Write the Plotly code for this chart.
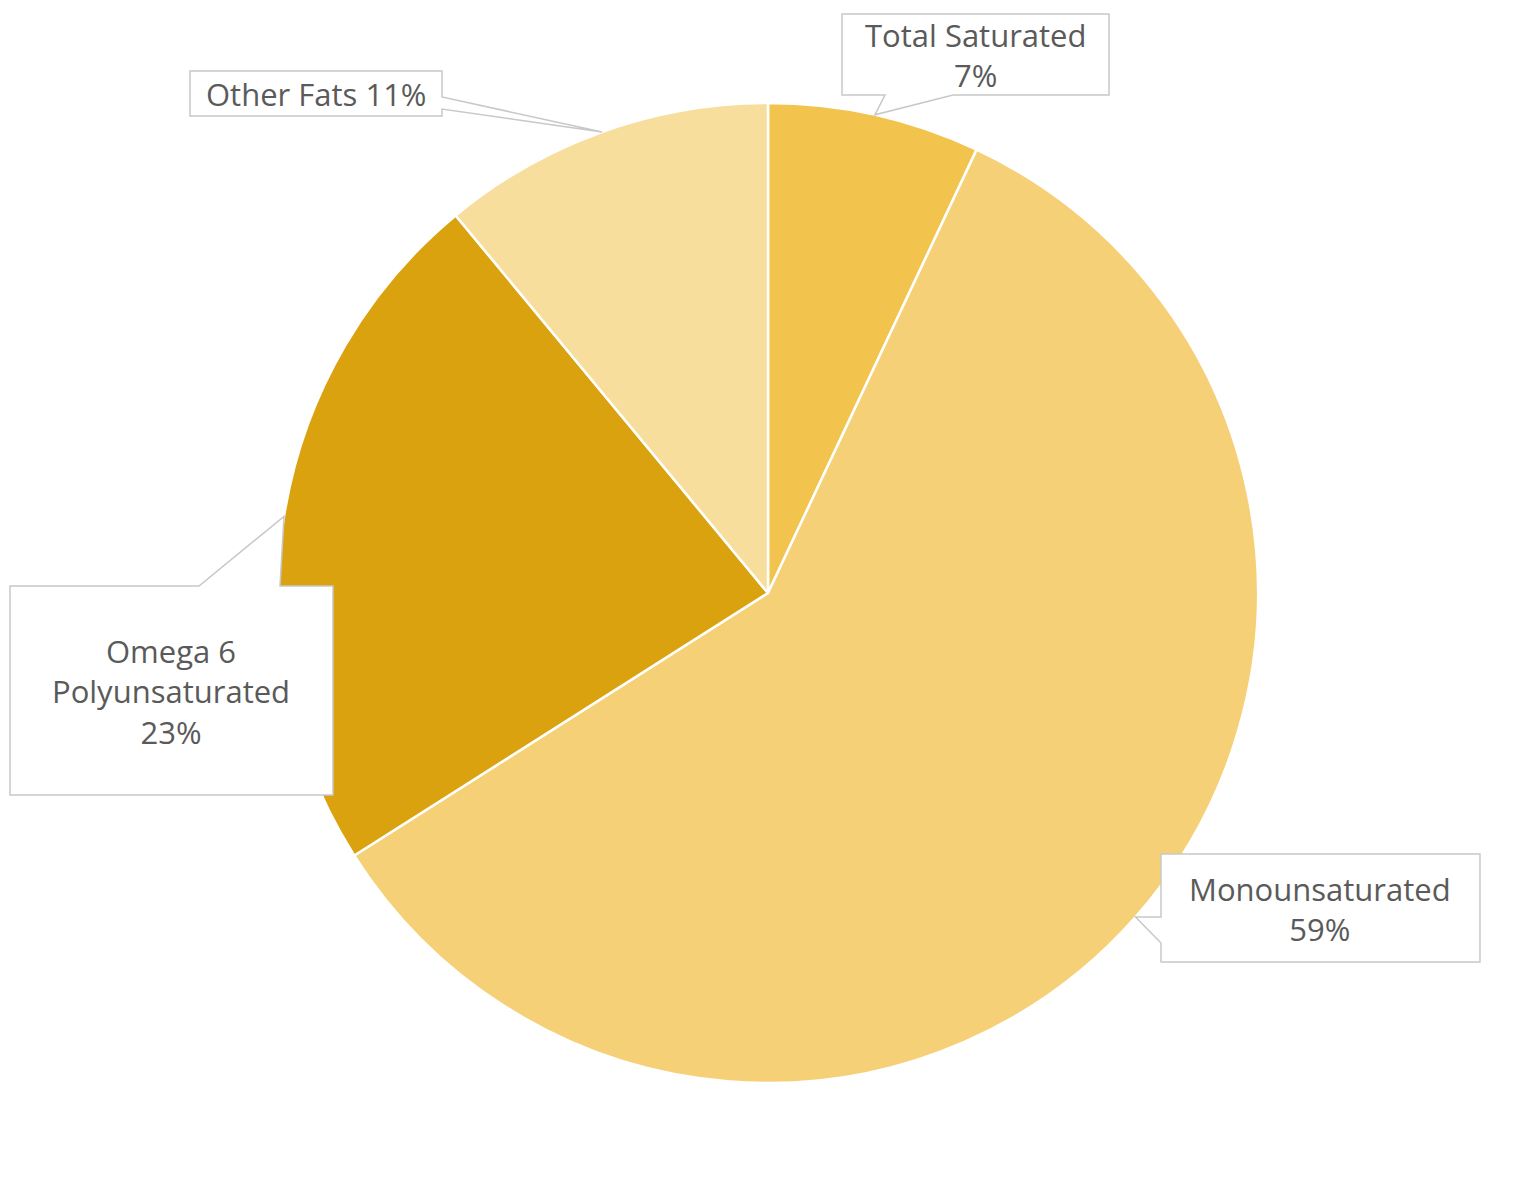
import math
import plotly.graph_objects as go

labels = ["Total Saturated", "Monounsaturated", "Omega 6 Polyunsaturated", "Other Fats"]
values = [7, 59, 23, 11]
colors = ["#F2C44E", "#F6D077", "#DBA20F", "#F8DE9C"]
label_text = ["Total Saturated<br>7%", "Monounsaturated<br>59%", "Omega 6<br>Polyunsaturated<br>23%", "Other Fats 11%"]

W, H = 1536, 1187
OFF = 8  # page body margin
CX, CY, R = 768 - OFF, 593 - OFF, 490

def px(x):
    return x / W

def py(y):
    return 1 - y / H

fig = go.Figure(go.Pie(
    labels=labels, values=values, sort=False, direction="clockwise", rotation=0,
    marker=dict(colors=colors, line=dict(color="white", width=2.5)),
    textinfo="none", hoverinfo="label+percent", showlegend=False,
    domain=dict(x=[0, 2 * CX / W], y=[(H - CY - R) / H, (H - CY + R) / H]),
))

# tips at the middle angle of each slice on the pie edge
total = sum(values)
tips = []
cum = 0
for v in values:
    mid = (cum + v / 2) / total * 2 * math.pi
    tips.append((CX + R * math.sin(mid) + OFF, CY - R * math.cos(mid) + OFF))
    cum += v

def path(points):
    return "M " + " L ".join(f"{px(x - OFF):.5f},{py(y - OFF):.5f}" for x, y in points) + " Z"

t0, t1, t2, t3 = tips
callouts = [
    [(842, 14), (1109, 14), (1109, 95), (953, 95), t0, (885, 95), (842, 95)],
    [(1161, 854), (1480, 854), (1480, 962), (1161, 962), (1161, 943), t1, (1161, 917)],
    [(10, 586), (199, 586), t2, (280, 586), (333, 586), (333, 795), (10, 795)],
    [(190, 71), (442, 71), (442, 97), t3, (442, 109), (442, 116), (190, 116)],
]
centers = [(975, 55), (1320, 909), (171, 691), (316, 94)]

for pts in callouts:
    fig.add_shape(type="path", path=path(pts), xref="paper", yref="paper",
                  fillcolor="white", line=dict(color="#c8c8c8", width=1.5), layer="above")

for (x, y), txt in zip(centers, label_text):
    fig.add_annotation(x=px(x - OFF), y=py(y - OFF), xref="paper", yref="paper", text=txt,
                       showarrow=False, xanchor="center", yanchor="middle",
                       font=dict(family="Open Sans", size=31, color="#5a5a5a"))

fig.update_layout(width=W, height=H, margin=dict(l=0, r=0, t=0, b=0),
                  paper_bgcolor="white", plot_bgcolor="white")

fig.write_html("out.html")
